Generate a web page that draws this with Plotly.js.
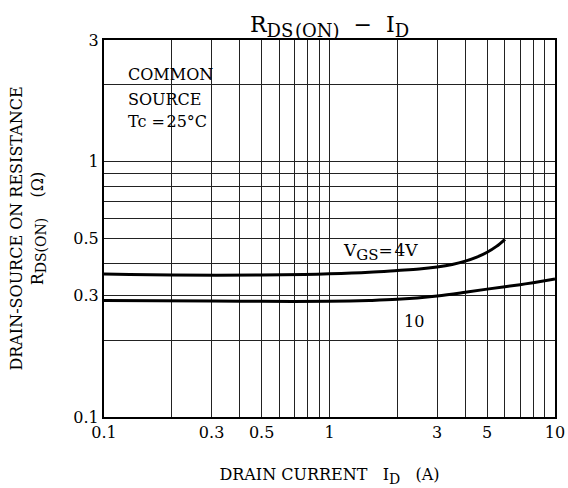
<!DOCTYPE html>
<html>
<head>
<meta charset="utf-8">
<script src="https://cdn.plot.ly/plotly-3.0.1.min.js"></script>
<style>html,body{margin:0;padding:0;background:#fff;}#chart{width:568px;height:488px;}</style>
</head>
<body>
<div id="chart"></div>
<script>
// Drain current I_D (A) and R_DS(ON) (ohm)
const vgs4_x  = [0.1, 0.13, 0.2, 0.5, 0.77, 1, 1.5, 2, 2.5, 3, 3.5, 4, 4.5, 5, 5.5, 6];
const vgs4_y  = [0.363, 0.362, 0.360, 0.360, 0.362, 0.364, 0.369, 0.375, 0.380, 0.387, 0.396, 0.408, 0.423, 0.442, 0.466, 0.497];
const vgs10_x = [0.1, 0.3, 0.5, 1, 1.5, 2, 3, 4, 5, 6, 7, 8, 10];
const vgs10_y = [0.286, 0.285, 0.284, 0.284, 0.286, 0.289, 0.298, 0.308, 0.317, 0.324, 0.330, 0.336, 0.347];

const xTickVals = [0.1,0.2,0.3,0.4,0.5,0.6,0.7,0.8,0.9,1,2,3,4,5,6,7,8,9,10];
const xTickText = ['0.1','','0.3','','0.5','','','','','1','','3','','5','','','','','10'];
const yTickVals = [0.1,0.2,0.3,0.4,0.5,0.6,0.7,0.8,0.9,1,2,3];
const yTickText = ['0.1','','0.3','','0.5','','','','','1','','3'];

const FONT = 'DejaVu Serif, Liberation Serif, serif';

function sub(t, px) { return '<sub><span style="font-size:' + px + 'px">' + t + '</span></sub>'; }

const traces = [
  {x: vgs4_x, y: vgs4_y, mode: 'lines', line: {color: '#000', width: 3, shape: 'spline'}, hoverinfo: 'skip'},
  {x: vgs10_x, y: vgs10_y, mode: 'lines', line: {color: '#000', width: 3, shape: 'spline'}, hoverinfo: 'skip'}
];

function mask(x0, x1, y0, y1) {
  return {type: 'rect', xref: 'paper', yref: 'paper', x0: x0, x1: x1, y0: y0, y1: y1,
          fillcolor: '#fff', line: {width: 0}, layer: 'between'};
}

const layout = {
  width: 568, height: 488,
  margin: {l: 104, r: 13, t: 40, b: 71},
  paper_bgcolor: '#fff', plot_bgcolor: '#fff',
  showlegend: false,
  font: {family: FONT, color: '#000'},
  title: {text: 'R' + sub('DS\u200a(ON)', 18) + '\u00a0\u00a0\u2212\u00a0\u00a0I' + sub('D', 18),
          font: {family: FONT, size: 22, color: '#000'},
          x: 0.5, xref: 'paper', xanchor: 'center', y: 0.95, yref: 'container', yanchor: 'middle'},
  xaxis: {
    type: 'log', range: [-1, 1], tickmode: 'array', tickvals: xTickVals, ticktext: xTickText,
    showgrid: true, gridcolor: '#222', gridwidth: 1, zeroline: false,
    showline: true, linecolor: '#000', linewidth: 2, mirror: true, ticks: '',
    tickfont: {family: FONT, size: 16, color: '#000'},
    title: {text: 'DRAIN CURRENT\u00a0\u00a0\u00a0I' + sub('D', 14) + '\u00a0\u00a0\u00a0(A)', font: {family: FONT, size: 16, color: '#000'}, standoff: 28}
  },
  yaxis: {
    type: 'log', range: [-1, Math.log10(3)], tickmode: 'array', tickvals: yTickVals, ticktext: yTickText,
    showgrid: true, gridcolor: '#222', gridwidth: 1, zeroline: false,
    showline: true, linecolor: '#000', linewidth: 2, mirror: true, ticks: '',
    tickfont: {family: FONT, size: 16, color: '#000'},
    title: {text: 'DRAIN-SOURCE ON RESISTANCE<br>R' + sub('DS(ON)', 14) + '\u00a0\u00a0\u00a0\u00a0(\u03a9)', font: {family: FONT, size: 16, color: '#000'}, standoff: 26}
  },
  shapes: [
    mask(0.004, 0.298, 0.682, 0.996),
    mask(0.519, 0.716, 0.401, 0.518),
    mask(0.634, 0.729, 0.212, 0.305)
  ],
  annotations: [
    {xref: 'paper', yref: 'paper', x: 0.049, y: 0.908, xanchor: 'left', yanchor: 'middle', showarrow: false,
     text: 'COMMON', font: {family: FONT, size: 16, color: '#000'}},
    {xref: 'paper', yref: 'paper', x: 0.049, y: 0.842, xanchor: 'left', yanchor: 'middle', showarrow: false,
     text: 'SOURCE', font: {family: FONT, size: 16, color: '#000'}},
    {xref: 'paper', yref: 'paper', x: 0.049, y: 0.783, xanchor: 'left', yanchor: 'middle', showarrow: false,
     text: 'Tc\u00a0=\u200a25\u00b0C', font: {family: FONT, size: 16, color: '#000'}},
    {xref: 'paper', yref: 'paper', x: 0.612, y: 0.438, xanchor: 'center', yanchor: 'middle', showarrow: false,
     text: 'V' + sub('GS', 15) + '=\u200a4V', font: {family: FONT, size: 17, color: '#000'}},
    {xref: 'paper', yref: 'paper', x: 0.688, y: 0.253, xanchor: 'center', yanchor: 'middle', showarrow: false,
     text: '10', font: {family: FONT, size: 16, color: '#000'}}
  ]
};

Plotly.newPlot('chart', traces, layout, {staticPlot: true, displayModeBar: false});
</script>
</body>
</html>
